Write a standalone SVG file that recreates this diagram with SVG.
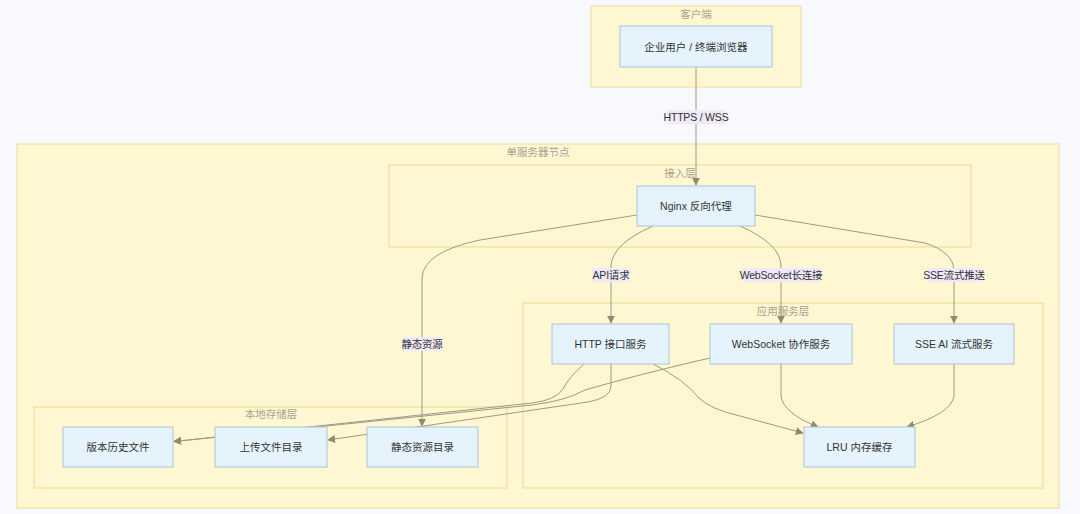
<svg xmlns="http://www.w3.org/2000/svg" width="1080" height="514" viewBox="0 0 1080 514">
<defs>
<style>
.bg{fill:#f8f9fc}
.cl{fill:#fff6d2;stroke:#efd99a;stroke-width:1}
.cl2{fill:#fff6d2;stroke:#f3d890;stroke-width:1}
.ct{font-family:"Liberation Sans","Noto Sans CJK SC",sans-serif;font-size:10.5px;fill:#aaa493;text-anchor:middle}
.nd{fill:#e5f3fd;stroke:#a9c3da;stroke-width:1}
.nt{font-family:"Liberation Sans","Noto Sans CJK SC",sans-serif;font-size:10.5px;fill:#333;text-anchor:middle;dominant-baseline:central}
.ed{fill:none;stroke:#9e9a82;stroke-width:1}
.lb{fill:#efe9fa}
.lt{font-family:"Liberation Sans","Noto Sans CJK SC",sans-serif;font-size:10.5px;fill:#333;text-anchor:middle;dominant-baseline:central;letter-spacing:-0.2px}
</style>
<marker id="ar" viewBox="0 0 10 10" refX="9" refY="5" markerWidth="8" markerHeight="8" orient="auto" markerUnits="userSpaceOnUse">
<path d="M0,0 L10,5 L0,10 z" fill="#8f8b70"/>
</marker>
</defs>
<rect class="bg" x="0" y="0" width="1080" height="514"/>

<g id="clusters">
<g id="cluster-client">
<rect class="cl" x="591" y="6" width="210" height="81"/>
<text class="ct" x="696" y="18">客户端</text>
</g>
<g id="cluster-server">
<rect class="cl" x="17" y="144" width="1042" height="364"/>
<text class="ct" x="538" y="156">单服务器节点</text>
</g>
<g id="cluster-access">
<rect class="cl2" x="389" y="165" width="582" height="82"/>
<text class="ct" x="680" y="177">接入层</text>
</g>
<g id="cluster-app">
<rect class="cl2" x="523" y="303" width="520" height="185"/>
<text class="ct" x="783" y="315">应用服务层</text>
</g>
<g id="cluster-storage">
<rect class="cl2" x="34" y="407" width="473" height="81"/>
<text class="ct" x="271" y="418">本地存储层</text>
</g>
</g>

<g id="connectors">
<path class="ed" d="M696,67 L696,185" marker-end="url(#ar)"/>
<path class="ed" d="M637,215 L480,240 Q423,252 422,278 L422,426" marker-end="url(#ar)"/>
<path class="ed" d="M653,226 Q612,244 611,266 L611,323" marker-end="url(#ar)"/>
<path class="ed" d="M740,226 Q781,244 781,266 L781,323" marker-end="url(#ar)"/>
<path class="ed" d="M755,215 L925,243 Q953,252 954,270 L954,323" marker-end="url(#ar)"/>
<path class="ed" d="M653,364 Q685,380 699,398 Q710,409 740,416 L803,433" marker-end="url(#ar)"/>
<path class="ed" d="M781,364 L781,396 Q783,413 818,427" marker-end="url(#ar)"/>
<path class="ed" d="M954,364 L954,396 Q952,413 907,427" marker-end="url(#ar)"/>
<path class="ed" d="M584,364 Q569,377 563,389 Q556,400 532,403 L174,441.5" marker-end="url(#ar)"/>
<path class="ed" d="M710,358 Q640,374 585,390 Q565,401 532,405 L174,441.5" marker-end="url(#ar)"/>
<path class="ed" d="M611,364 L611,386 Q611,398 588,402 L328,440" marker-end="url(#ar)"/>
</g>

<g id="edge-labels">
<g id="label-https"><rect class="lb" x="667" y="110" width="58" height="14"/><text class="lt" x="696" y="117">HTTPS / WSS</text></g>
<g id="label-api"><rect class="lb" x="592" y="268" width="38" height="14"/><text class="lt" x="611" y="275">API请求</text></g>
<g id="label-ws"><rect class="lb" x="742" y="268" width="79" height="14"/><text class="lt" x="781" y="275">WebSocket长连接</text></g>
<g id="label-sse"><rect class="lb" x="927" y="268" width="55" height="14"/><text class="lt" x="954" y="275">SSE流式推送</text></g>
<g id="label-static"><rect class="lb" x="402" y="337" width="40" height="14"/><text class="lt" x="422" y="344">静态资源</text></g>
</g>

<g id="node-client"><rect class="nd" x="620" y="26" width="152" height="41"/><text class="nt" x="696" y="46.5">企业用户 / 终端浏览器</text></g>
<g id="node-nginx"><rect class="nd" x="637" y="186" width="118" height="40"/><text class="nt" x="696" y="206">Nginx 反向代理</text></g>
<g id="node-http"><rect class="nd" x="552" y="324" width="117" height="40"/><text class="nt" x="610.5" y="344">HTTP 接口服务</text></g>
<g id="node-ws"><rect class="nd" x="710" y="324" width="142" height="40"/><text class="nt" x="781" y="344">WebSocket 协作服务</text></g>
<g id="node-sse"><rect class="nd" x="894" y="324" width="120" height="40"/><text class="nt" x="954" y="344">SSE AI 流式服务</text></g>
<g id="node-lru"><rect class="nd" x="804" y="427" width="111" height="40"/><text class="nt" x="859.5" y="447">LRU 内存缓存</text></g>
<g id="node-version"><rect class="nd" x="63" y="427" width="110" height="40"/><text class="nt" x="118" y="447">版本历史文件</text></g>
<g id="node-upload"><rect class="nd" x="215" y="427" width="112" height="40"/><text class="nt" x="271" y="447">上传文件目录</text></g>
<g id="node-static"><rect class="nd" x="367" y="427" width="111" height="40"/><text class="nt" x="422.5" y="447">静态资源目录</text></g>
</svg>
